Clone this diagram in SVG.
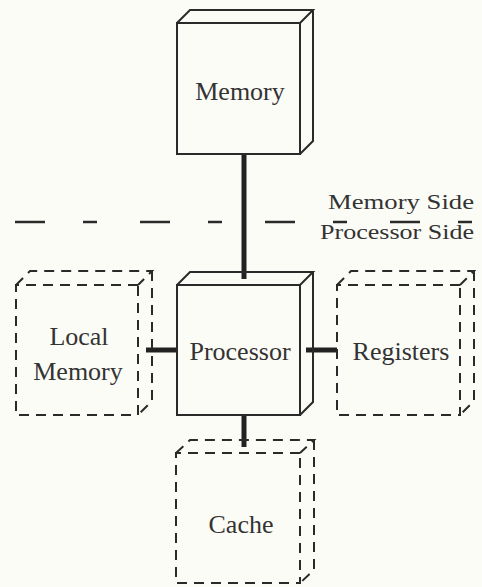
<svg xmlns="http://www.w3.org/2000/svg" width="482" height="587" viewBox="0 0 482 587">
<style>
.bg{fill:#fcfcf7}
.solid{fill:none;stroke:#2a2a2a;stroke-width:2;stroke-linejoin:miter}
.dash{fill:none;stroke:#2a2a2a;stroke-width:2;stroke-dasharray:10 7}
.conn{stroke:#222;stroke-width:5;fill:none}
.lbl{font-family:"Liberation Serif","Times New Roman",serif;font-size:26px;fill:#333;text-anchor:middle}
.side{font-family:"Liberation Serif","Times New Roman",serif;font-size:22px;fill:#333;text-anchor:start}
.divider{stroke:#2a2a2a;stroke-width:2.5;stroke-dasharray:30 38 14 43;fill:none}
</style>
<rect class="bg" x="0" y="0" width="482" height="587"/>
<g id="divider">
<line class="divider" x1="15" y1="222" x2="475" y2="222"/>
<text class="side" x="328" y="209" textLength="146" lengthAdjust="spacingAndGlyphs">Memory Side</text>
<text class="side" x="320" y="239" textLength="154" lengthAdjust="spacingAndGlyphs">Processor Side</text>
</g>
<g id="connectors">
<line class="conn" x1="244" y1="154" x2="244" y2="279"/>
<line class="conn" x1="146" y1="350" x2="177" y2="350"/>
<line class="conn" x1="306" y1="350" x2="337" y2="350"/>
<line class="conn" x1="244" y1="415" x2="244" y2="447"/>
</g>
<g id="memory">
<rect class="solid" x="177" y="23" width="123" height="131" fill="#fdfdf9"/>
<path class="solid" d="M177,23 L190,10 L313,10 L300,23 M313,10 L313,141 L300,154"/>
<text class="lbl" x="240" y="100">Memory</text>
</g>
<g id="processor">
<rect class="solid" x="177" y="285" width="123" height="130"/>
<path class="solid" d="M177,285 L190,272 L313,272 L300,285 M313,272 L313,402 L300,415"/>
<text class="lbl" x="240" y="360">Processor</text>
</g>
<g id="local-memory">
<path class="dash" d="M138,285 L16,285 L16,415 L138,415 L138,285"/>
<path class="dash" d="M16,285 L30,271 L152,271 L138,285 M152,271 L152,401 L138,415"/>
<text class="lbl" x="79" y="345">Local</text>
<text class="lbl" x="78" y="380">Memory</text>
</g>
<g id="registers">
<path class="dash" d="M460,285 L337,285 L337,415 L460,415 L460,285"/>
<path class="dash" d="M337,285 L351,271 L474,271 L460,285 M474,271 L474,401 L460,415"/>
<text class="lbl" x="401" y="360">Registers</text>
</g>
<g id="cache">
<path class="dash" d="M300,453 L176,453 L176,583 L300,583 L300,453"/>
<path class="dash" d="M176,453 L190,440 L314,440 L300,453 M314,440 L314,570 L300,583"/>
<text class="lbl" x="241" y="533">Cache</text>
</g>
</svg>
